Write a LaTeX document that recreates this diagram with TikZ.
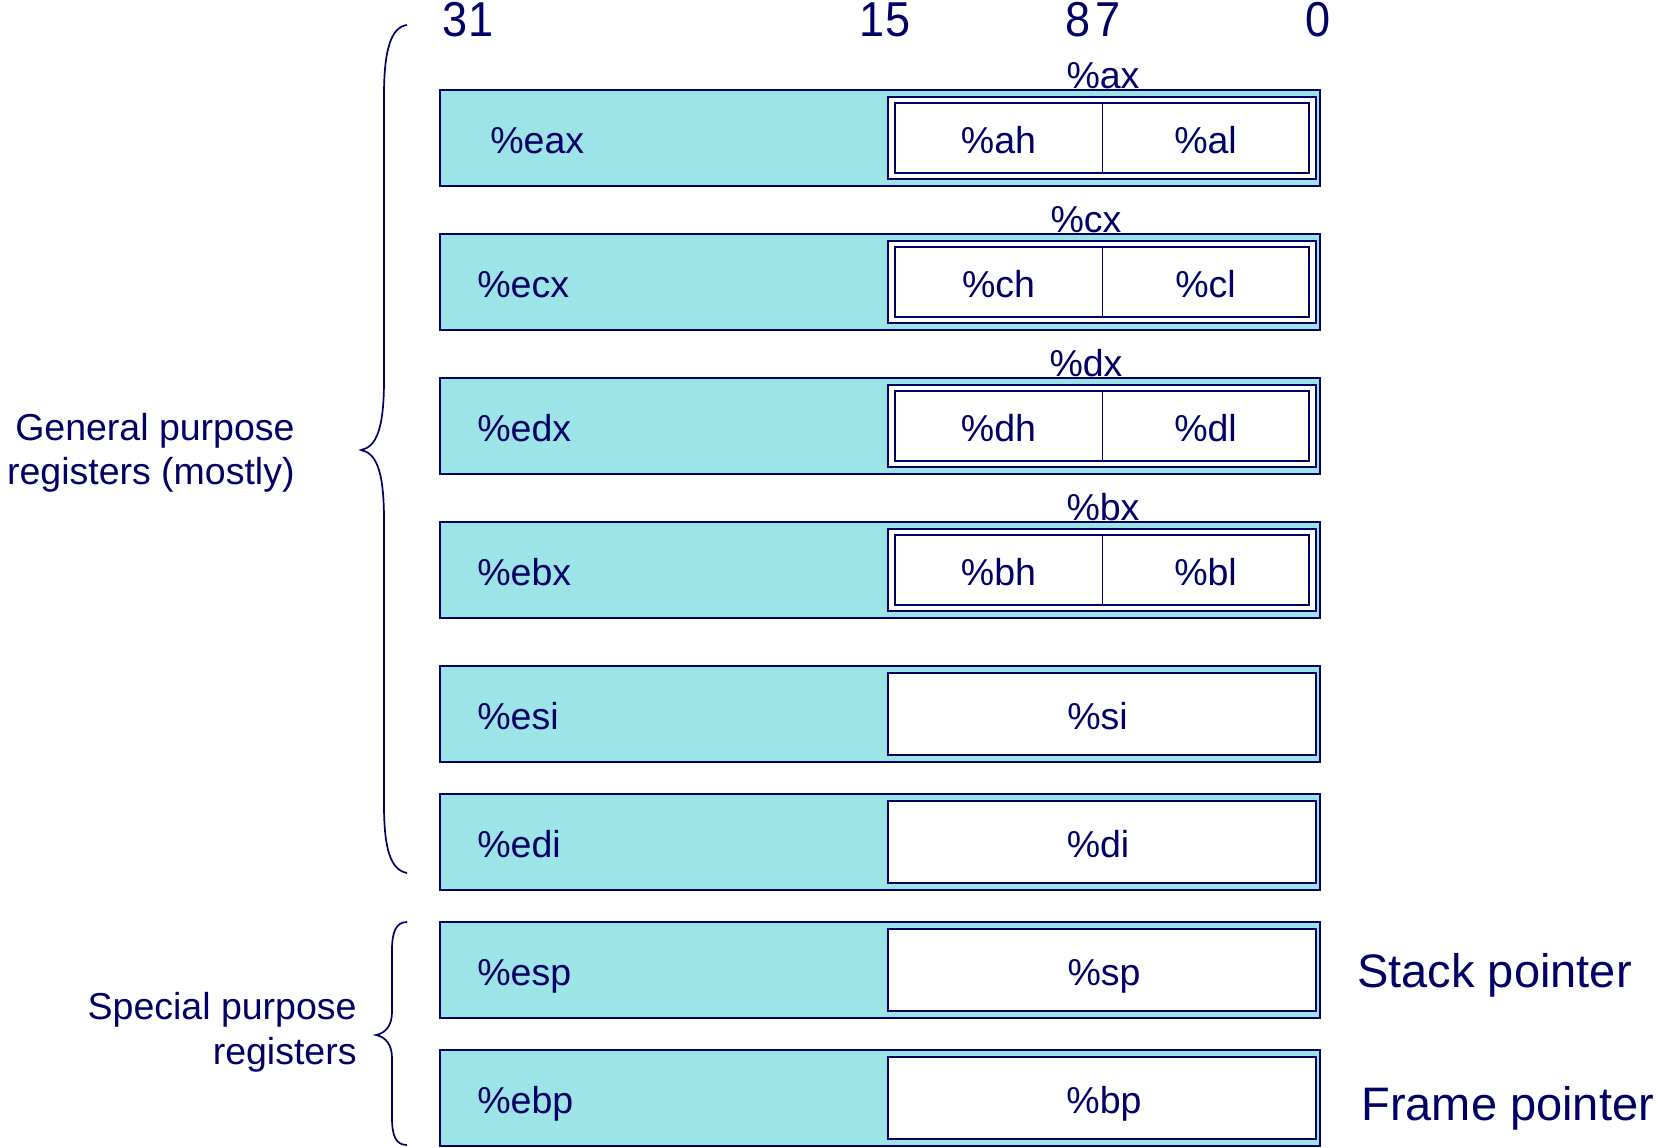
\documentclass[tikz,border=0pt]{standalone}
\usepackage{fontspec}
\setmainfont{Liberation Sans}
\newfontfamily\narrowfont[FakeStretch=0.92]{Liberation Sans}
\definecolor{regline}{RGB}{0,0,102}
\definecolor{regfill}{RGB}{156,228,230}

\begin{document}
\begin{tikzpicture}[x=0.5pt,y=-0.5pt,
  every node/.style={inner sep=0pt, text=regline},
  regbox/.style={draw=regline, fill=regfill, line width=1.1pt,
    minimum width=440pt, minimum height=48pt},
  wordbox/.style={draw=regline, fill=white, line width=0.95pt,
    minimum width=214pt, minimum height=41pt},
  halfbox/.style={minimum width=103.5pt, minimum height=35pt},
  innerline/.style={draw=regline, line width=0.95pt},
  divider/.style={draw=regline, line width=0.65pt},
  lbl/.style={font=\fontsize{18.75}{22.3}\selectfont},
  bits/.style={font=\narrowfont\fontsize{24.5}{28}\selectfont, anchor=base},
  side/.style={font=\fontsize{23.5}{28}\selectfont, anchor=base west},
  bracepath/.style={draw=regline, line width=0.85pt}
]
\useasboundingbox (0,0) rectangle (1658,1147);

% bit positions
\node[bits] (b31) at (468,36) {31};
\node[bits] (b15) at (885,36) {15};
\node[bits] (b8)  at (1078,36) {8};
\node[bits] (b7)  at (1108,36) {7};
\node[bits] (b0)  at (1318,36) {0};

% registers with addressable high and low bytes
\foreach \n/\y/\w/\h/\l/\xl/\xw in {eax/138/ax/ah/al/490/1103,
                                     ecx/282/cx/ch/cl/477/1086,
                                     edx/426/dx/dh/dl/477/1086,
                                     ebx/570/bx/bh/bl/477/1103}{
  \node[regbox] (\n) at (880,\y) {};
  \node[lbl, anchor=base west] (\n-name) at (\xl,\y+15.5) {\%\n};
  \node[wordbox] (\w) at (1102,\y) {};
  \node[halfbox] (\h) at (998.5,\y) {};
  \node[halfbox] (\l) at (1205.5,\y) {};
  \draw[innerline] (\h.north west) rectangle (\l.south east);
  \draw[divider] (\h.north east) -- (\h.south east);
  \node[lbl, anchor=base] (\h-name) at (998.5,\y+15.5) {\%\h};
  \node[lbl, anchor=base] (\l-name) at (1205.5,\y+15.5) {\%\l};
  \node[lbl, anchor=base] (\w-name) at (\xw,\y-50) {\%\w};
}

% registers with a 16-bit low half only
\foreach \n/\y/\w/\xw in {esi/714/si/1097.5,
                          edi/842/di/1098,
                          esp/970/sp/1104,
                          ebp/1098/bp/1104}{
  \node[regbox] (\n) at (880,\y) {};
  \node[lbl, anchor=base west] (\n-name) at (477,\y+15.5) {\%\n};
  \node[wordbox] (\w) at (1102,\y) {};
  \node[lbl, anchor=base] (\w-name) at (\xw,\y+15.5) {\%\w};
}

% roles of the special registers
\node[side] (stack) at (1357,987) {Stack pointer};
\node[side] (frame) at (1361,1120) {Frame pointer};

% group captions
\node[lbl, anchor=base east] (gp1) at (295,440) {General purpose};
\node[lbl, anchor=base east] (gp2) at (295,484) {registers (mostly)};
\node[lbl, anchor=base east] (sp1) at (357,1019) {Special purpose};
\node[lbl, anchor=base east] (sp2) at (357,1064) {registers};

% braces
\draw[bracepath] (407,25) .. controls (391,27) and (384,50) .. (384,95)
  -- (384,380) .. controls (384,430) and (376,447) .. (361,450)
  .. controls (376,453) and (384,470) .. (384,520)
  -- (384,805) .. controls (384,850) and (391,870) .. (407,873);
\draw[bracepath] (407,922) .. controls (396,922) and (392,932) .. (392,950)
  -- (392,1012) .. controls (392,1025) and (386,1033) .. (376,1035)
  .. controls (386,1037) and (392,1045) .. (392,1058)
  -- (392,1118) .. controls (392,1136) and (396,1145) .. (407,1145);
\end{tikzpicture}
\end{document}
